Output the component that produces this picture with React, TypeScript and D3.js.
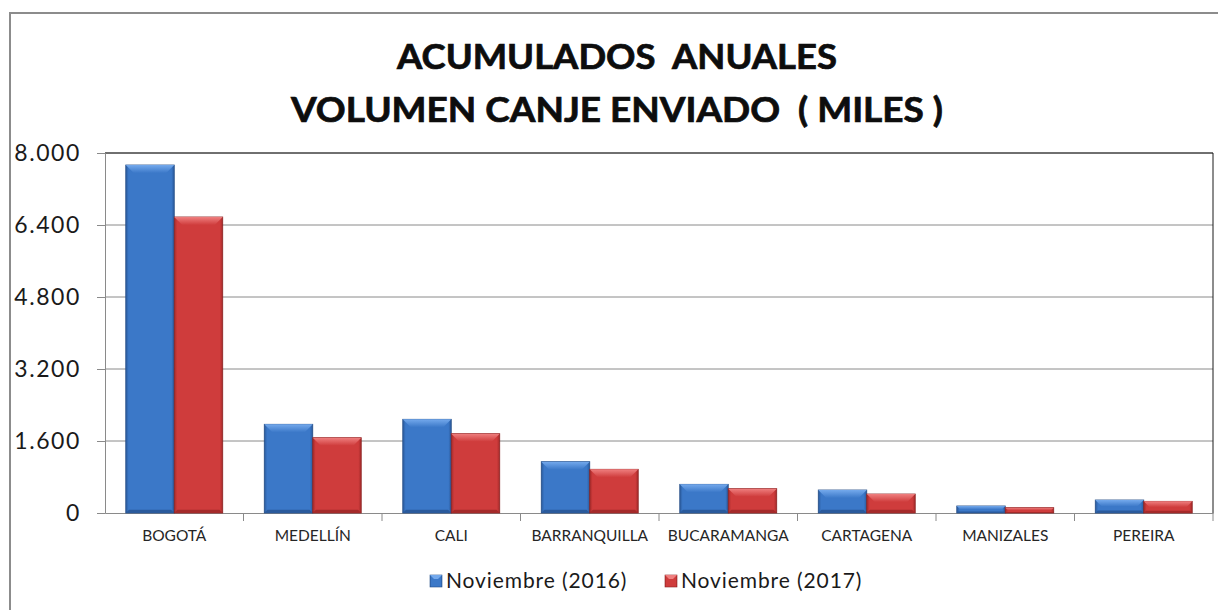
import React, { useEffect, useRef } from "react";
import * as d3 from "d3";

// chart data
const categories = [
  "BOGOTÁ",
  "MEDELLÍN",
  "CALI",
  "BARRANQUILLA",
  "BUCARAMANGA",
  "CARTAGENA",
  "MANIZALES",
  "PEREIRA",
];
const seriesNames = ["Noviembre (2016)", "Noviembre (2017)"];
const values2016 = [7733, 1971, 2082, 1141, 637, 511, 156, 289];
const values2017 = [6578, 1674, 1763, 971, 541, 422, 119, 259];
const yTicks = [0, 1600, 3200, 4800, 6400, 8000];
const titleLines = ["ACUMULADOS  ANUALES", "VOLUMEN CANJE ENVIADO  ( MILES )"];

const colors = [
  { base: "#3b78c8", light: "#74a9ec", dark: "#2a5a9c", edge: "#234c85" },
  { base: "#cf3c3c", light: "#ef7f7f", dark: "#a52a2a", edge: "#8a2222" },
];

const App = () => {
  const ref = useRef<SVGSVGElement>(null);

  useEffect(() => {
    const width = 1218;
    const height = 610;
    const margin = { top: 153, right: 5, bottom: 97, left: 105 };
    const font = "Lato, 'Open Sans', sans-serif";

    const svg = d3.select(ref.current);
    svg.selectAll("*").remove();
    svg.attr("viewBox", [0, 0, width, height]);

    // gradients for the bevelled bars
    const defs = svg.append("defs");
    colors.forEach((c, i) => {
      const g = defs
        .append("linearGradient")
        .attr("id", `body${i}`)
        .attr("x1", 0)
        .attr("x2", 1)
        .attr("y1", 0)
        .attr("y2", 0);
      g.append("stop").attr("offset", "0%").attr("stop-color", c.dark);
      g.append("stop").attr("offset", "6%").attr("stop-color", c.base);
      g.append("stop").attr("offset", "94%").attr("stop-color", c.base);
      g.append("stop").attr("offset", "100%").attr("stop-color", c.dark);
      const t = defs
        .append("linearGradient")
        .attr("id", `top${i}`)
        .attr("x1", 0)
        .attr("x2", 0)
        .attr("y1", 0)
        .attr("y2", 1);
      t.append("stop").attr("offset", "0%").attr("stop-color", c.light);
      t.append("stop").attr("offset", "100%").attr("stop-color", c.base);
    });

    // outer frame
    svg
      .append("rect")
      .attr("x", 10)
      .attr("y", 13)
      .attr("width", 1212)
      .attr("height", 610)
      .attr("fill", "#fff")
      .attr("stroke", "#8c8c8c")
      .attr("stroke-width", 2);

    const x0 = d3
      .scaleBand()
      .domain(categories)
      .range([margin.left, width - margin.right])
      .padding(0);

    const gap = x0.bandwidth() * 0.15;
    const x1 = d3
      .scaleBand()
      .domain(seriesNames)
      .range([gap, x0.bandwidth() - gap])
      .padding(0);

    const y = d3
      .scaleLinear()
      .domain([0, 8000])
      .range([height - margin.bottom, margin.top]);

    const fmt = d3
      .formatLocale({
        decimal: ",",
        thousands: ".",
        grouping: [3],
        currency: ["$", ""],
      })
      .format(",d");

    // gridlines
    svg
      .append("g")
      .selectAll("line")
      .data(yTicks.filter((d) => d > 0))
      .join("line")
      .attr("x1", margin.left)
      .attr("x2", width - margin.right)
      .attr("y1", (d) => y(d))
      .attr("y2", (d) => y(d))
      .attr("stroke", "#8a8a8a")
      .attr("stroke-width", 1);

    // plot area border: top and right are dark
    svg
      .append("line")
      .attr("x1", margin.left)
      .attr("x2", width - margin.right)
      .attr("y1", y(8000))
      .attr("y2", y(8000))
      .attr("stroke", "#1a1a1a");
    svg
      .append("line")
      .attr("x1", width - margin.right)
      .attr("x2", width - margin.right)
      .attr("y1", y(8000))
      .attr("y2", y(0))
      .attr("stroke", "#1a1a1a");

    // y axis
    const gy = svg
      .append("g")
      .attr("transform", `translate(${margin.left},0)`)
      .call(
        d3
          .axisLeft(y)
          .tickValues(yTicks)
          .tickFormat((d) => fmt(d as number))
          .tickSize(8)
          .tickPadding(16)
      );
    gy.select(".domain").attr("stroke", "#8a8a8a");
    gy.selectAll(".tick line").attr("stroke", "#8a8a8a");
    gy.selectAll(".tick text")
      .attr("font-family", font)
      .attr("font-size", 23)
      .attr("letter-spacing", 1.6)
      .attr("fill", "#1a1a1a");

    // x axis
    const gx = svg
      .append("g")
      .attr("transform", `translate(0,${y(0)})`)
      .call(d3.axisBottom(x0).tickSize(0).tickPadding(17));
    gx.select(".domain").attr("stroke", "#8a8a8a");
    gx.selectAll(".tick text")
      .attr("font-family", font)
      .attr("font-size", 15.5)
      .attr("fill", "#262626");
    // category separators
    gx.append("g")
      .selectAll("line")
      .data(categories)
      .join("line")
      .attr("x1", (d) => (x0(d) as number) + x0.bandwidth())
      .attr("x2", (d) => (x0(d) as number) + x0.bandwidth())
      .attr("y1", 0)
      .attr("y2", 8)
      .attr("stroke", "#8a8a8a");

    // bars
    const rows = categories.map((c, i) => ({
      cat: c,
      vals: [values2016[i], values2017[i]],
    }));
    const groups = svg
      .append("g")
      .selectAll("g")
      .data(rows)
      .join("g")
      .attr("transform", (d) => `translate(${x0(d.cat)},0)`);

    seriesNames.forEach((s, si) => {
      groups.each(function (d) {
        const g = d3.select(this);
        const bx = x1(s) as number;
        const bw = x1.bandwidth();
        const by = y(d.vals[si]);
        const bh = y(0) - by;
        const b = Math.min(8, bh / 2);
        g.append("rect")
          .attr("x", bx)
          .attr("y", by)
          .attr("width", bw)
          .attr("height", bh)
          .attr("fill", `url(#body${si})`)
          .attr("stroke", colors[si].edge)
          .attr("stroke-width", 0.8);
        g.append("polygon")
          .attr(
            "points",
            [
              [bx, by],
              [bx + bw, by],
              [bx + bw - b, by + b],
              [bx + b, by + b],
            ].join(" ")
          )
          .attr("fill", `url(#top${si})`);
        g.append("polygon")
          .attr(
            "points",
            [
              [bx, y(0)],
              [bx + bw, y(0)],
              [bx + bw - b * 0.4, y(0) - b * 0.4],
              [bx + b * 0.4, y(0) - b * 0.4],
            ].join(" ")
          )
          .attr("fill", colors[si].dark);
      });
    });

    // title
    const titleWidths = [440, 652];
    svg
      .append("g")
      .selectAll("text")
      .data(titleLines)
      .join("text")
      .attr("x", 617)
      .attr("y", (d, i) => 69 + i * 53)
      .attr("text-anchor", "middle")
      .attr("font-family", font)
      .attr("font-weight", "bold")
      .attr("font-size", 34)
      .attr("fill", "#0d0d0d")
      .attr("stroke", "#0d0d0d")
      .attr("stroke-width", 0.7)
      .attr("textLength", (d, i) => titleWidths[i])
      .attr("lengthAdjust", "spacingAndGlyphs")
      .style("white-space", "pre")
      .text((d) => d);

    // legend
    const legendX = [430, 665];
    const legend = svg
      .append("g")
      .selectAll("g")
      .data(seriesNames)
      .join("g")
      .attr("transform", (d, i) => `translate(${legendX[i]},575)`);
    legend
      .append("rect")
      .attr("width", 12)
      .attr("height", 12)
      .attr("fill", (d, i) => `url(#body${i})`)
      .attr("stroke", (d, i) => colors[i].edge)
      .attr("stroke-width", 0.6);
    legend
      .append("polygon")
      .attr("points", "0,0 12,0 8,4 4,4")
      .attr("fill", (d, i) => colors[i].light);
    legend
      .append("text")
      .attr("x", 16)
      .attr("y", 13)
      .attr("font-family", font)
      .attr("font-size", 21)
      .attr("letter-spacing", 0.9)
      .attr("fill", "#1a1a1a")
      .text((d) => d);
  }, []);

  return (
    <div id="app">
      <svg
        ref={ref}
        width={1218}
        height={610}
        style={{ position: "absolute", left: 0, top: 0, display: "block" }}
      />
    </div>
  );
};

export default App;
